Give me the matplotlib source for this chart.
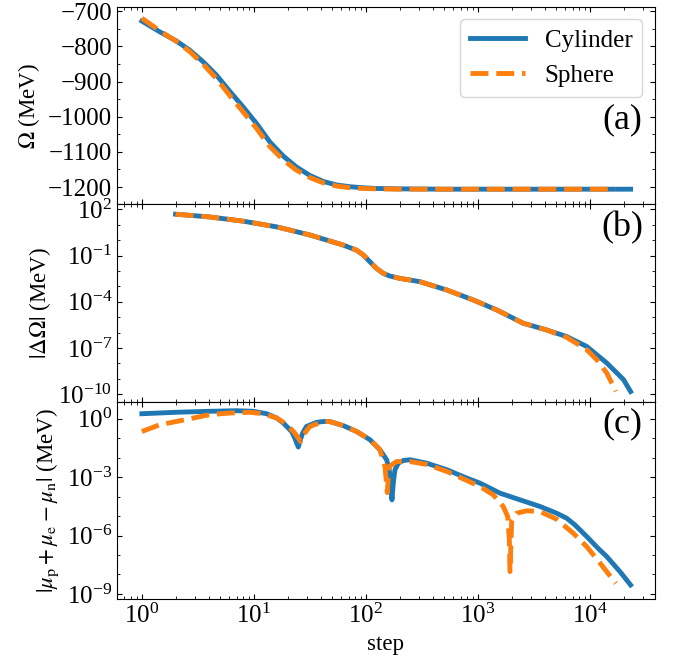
import matplotlib
matplotlib.use('Agg')
import matplotlib.pyplot as plt
from matplotlib.ticker import MultipleLocator, LogLocator, NullFormatter

plt.rcParams['font.family'] = 'serif'
plt.rcParams['font.serif'] = ['Liberation Serif', 'DejaVu Serif']
plt.rcParams['mathtext.fontset'] = 'stix'

BLUE = '#1f77b4'
ORANGE = '#ff7f0e'

# ---------- (a) grand potential ----------
a_cyl_step = [1, 1.45, 2.04, 2.68, 3.53, 4.64, 6.1, 8.0, 10.6, 13.9, 18.3, 24, 31.6,
              41.6, 54.7, 72, 94.6, 124, 200, 500, 2000, 8000, 23000]
a_cyl_val = [-728, -759, -785, -811, -844, -882, -928, -972, -1020, -1072, -1112, -1143,
             -1167, -1184, -1194, -1199, -1202, -1204, -1205, -1206, -1206, -1206, -1206]
a_sph_step = [1, 1.45, 2.04, 2.68, 3.53, 4.64, 6.1, 8.0, 10.6, 13.9, 18.3, 24, 31.6,
              41.6, 54.7, 72, 94.6, 124, 200, 500, 2000, 8000, 17000]
a_sph_val = [-720, -756, -786, -815, -851, -892, -940, -986, -1034, -1085, -1123, -1152,
             -1173, -1188, -1197, -1202, -1204, -1205, -1206, -1206, -1206, -1206, -1206]

# ---------- (b) |dOmega| ----------
b_cyl_step = [2, 4, 8, 16, 32, 63, 82.6, 95, 108.6, 124, 143, 163, 200, 245, 304, 527,
              908, 1470, 2520, 4070, 6160, 9340, 14100, 19900, 23000]
b_cyl_val = [48, 32, 17, 7.2, 2.1, 0.47, 0.22, 0.107, 0.039, 0.0148, 6.9e-3, 4.7e-3,
             3.3e-3, 2.6e-3, 2.0e-3, 5.8e-4, 1.3e-4, 2.95e-5, 4.1e-6, 1.5e-6, 5.6e-7,
             1.26e-7, 1.07e-8, 8.9e-10, 1.5e-10]
b_sph_step = [2, 4, 8, 16, 32, 63, 82.6, 95, 108.6, 124, 143, 163, 200, 245, 304, 527,
              908, 1470, 2520, 4070, 6160, 9340, 11500, 14100, 17000]
b_sph_val = [48, 32, 17, 7.2, 2.1, 0.47, 0.22, 0.107, 0.039, 0.0148, 6.9e-3, 4.7e-3,
             3.3e-3, 2.6e-3, 2.0e-3, 5.8e-4, 1.3e-4, 2.95e-5, 4.1e-6, 1.5e-6, 5.0e-7,
             7.8e-8, 1.7e-8, 2.4e-9, 1.55e-10]

# ---------- (c) |mu_p + mu_e - mu_n| ----------
c_cyl_step = [1, 2.04, 4, 7, 9.8, 13, 16, 18.3, 21.7, 23.2, 24.4, 24.9, 25.7, 27.2, 29.5,
              36.3, 41.6, 47.7, 62.8, 82.6, 108.6, 133, 153, 161.5, 167, 170.7, 175.4,
              181.5, 194.5, 215, 247, 348, 527, 793, 1042, 1571, 2371, 3579, 5030, 6170,
              7300, 9340, 12000, 14100, 18500, 23000]
c_cyl_val = [1.8, 2.14, 2.4, 2.57, 2.4, 1.8, 1.08, 0.6, 0.22, 0.1, 0.046, 0.035, 0.068,
             0.18, 0.4, 0.65, 0.72, 0.71, 0.44, 0.22, 0.083, 0.026, 7.8e-3, 2.4e-3,
             3.3e-4, 6.8e-5, 4.9e-4, 2.4e-3, 5.2e-3, 7.1e-3, 7.8e-3, 5.2e-3, 2.4e-3,
             8.9e-4, 4.9e-4, 1.5e-4, 6.8e-5, 3.1e-5, 1.4e-5, 7.8e-6, 3.6e-6, 8.9e-7,
             2.0e-7, 8.3e-8, 1.4e-8, 2.9e-9]
c_sph_step = [1, 1.45, 2.04, 2.87, 4, 6.1, 9.2, 12.1, 16, 19.8, 23.2, 26.1, 27.7, 31.6,
              41.6, 47.7, 62.8, 82.6, 108.6, 133, 148, 155, 161, 188, 247, 348, 527,
              1042, 1370, 1680, 1840, 1905, 1930, 2000, 2215, 2722, 3580, 5030, 7100,
              9340, 12300, 17000]
c_sph_val = [0.22, 0.49, 0.72, 1.08, 1.6, 1.96, 2.13, 1.8, 1.08, 0.49, 0.18, 0.068, 0.15,
             0.4, 0.72, 0.71, 0.44, 0.22, 0.083, 0.026, 3.5e-3, 1.6e-4, 3.5e-3, 6.3e-3,
             6.3e-3, 4.5e-3, 1.95e-3, 3.3e-4, 1.23e-4, 3.1e-5, 9.5e-6, 6.0e-7, 1.4e-8,
             6.3e-6, 1.4e-5, 1.86e-5, 1.7e-5, 6.9e-6, 1.3e-6, 2.7e-7, 3.8e-8, 3.5e-9]

fig, axes = plt.subplots(3, 1, figsize=(6.83, 6.71), dpi=100, sharex=True)
fig.subplots_adjust(left=0.1713, right=0.959, top=0.9896, bottom=0.1073, hspace=0)
ax_a, ax_b, ax_c = axes

LW = 3.5
ax_a.plot(a_cyl_step, a_cyl_val, color=BLUE, lw=LW, label='Cylinder')
ax_a.plot(a_sph_step, a_sph_val, color=ORANGE, lw=LW, ls='--', label='Sphere')
ax_b.plot(b_cyl_step, b_cyl_val, color=BLUE, lw=LW)
ax_b.plot(b_sph_step, b_sph_val, color=ORANGE, lw=LW, ls='--')
ax_c.plot(c_cyl_step, c_cyl_val, color=BLUE, lw=LW)
ax_c.plot(c_sph_step, c_sph_val, color=ORANGE, lw=LW, ls='--')

ax_a.set_xscale('log')
ax_a.set_xlim(0.6, 3.8e4)

ax_a.set_ylim(-1249, -688)
ax_a.yaxis.set_major_locator(MultipleLocator(100))
ax_a.yaxis.set_minor_locator(MultipleLocator(50))

ax_b.set_yscale('log')
ax_b.set_ylim(3.3e-11, 2.1e2)
ax_b.set_yticks([1e2, 1e-1, 1e-4, 1e-7, 1e-10])
ax_b.yaxis.set_minor_locator(LogLocator(base=10, subs=(1.0,), numticks=30))
ax_b.yaxis.set_minor_formatter(NullFormatter())

ax_c.set_yscale('log')
ax_c.set_ylim(5.5e-10, 7.5)
ax_c.set_yticks([1e0, 1e-3, 1e-6, 1e-9])
ax_c.yaxis.set_minor_locator(LogLocator(base=10, subs=(1.0,), numticks=30))
ax_c.yaxis.set_minor_formatter(NullFormatter())

ax_c.xaxis.set_major_locator(LogLocator(base=10, numticks=20))
ax_c.xaxis.set_minor_locator(LogLocator(base=10, subs=range(2, 10), numticks=20))
ax_c.xaxis.set_minor_formatter(NullFormatter())

FS = 18
for ax in axes:
    ax.tick_params(which='both', direction='in', top=True, right=True, labelsize=FS)

ax_a.set_ylabel(r'$\Omega$ (MeV)', fontsize=16.5)
ax_b.set_ylabel(r'$|\Delta\Omega|$ (MeV)', fontsize=16.5)
ax_c.set_ylabel(r'$|\mu_{\mathrm{p}}+\mu_{\mathrm{e}}-\mu_{\mathrm{n}}|$ (MeV)', fontsize=16.5)
ax_c.set_xlabel('step', fontsize=16.5)

ax_a.text(0.976, 0.43, '(a)', transform=ax_a.transAxes, ha='right', va='center', fontsize=26)
ax_b.text(0.978, 0.88, '(b)', transform=ax_b.transAxes, ha='right', va='center', fontsize=26)
ax_c.text(0.976, 0.89, '(c)', transform=ax_c.transAxes, ha='right', va='center', fontsize=26)

ax_a.legend(loc='upper right', fontsize=18, handlelength=2.2)

fig.savefig('out.png', dpi=100)
